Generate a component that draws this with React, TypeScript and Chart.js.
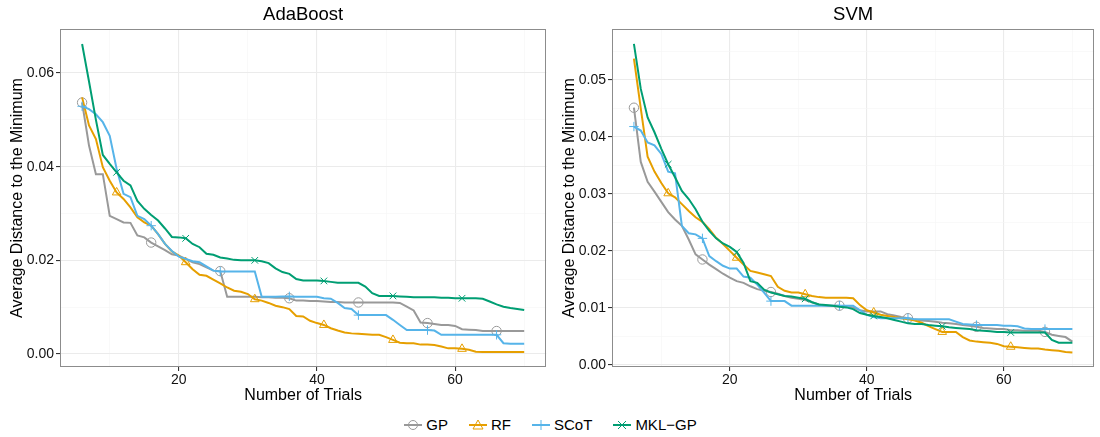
import React, { useEffect, useRef } from 'react';
import { Chart, registerables } from 'chart.js';
Chart.register(...registerables);

// ---------- data ----------
const trials = [6, 7, 8, 9, 10, 11, 12, 13, 14, 15, 16, 17, 18, 19, 20, 21, 22, 23, 24, 25, 26, 27, 28, 29, 30, 31, 32, 33, 34, 35, 36, 37, 38, 39, 40, 41, 42, 43, 44, 45, 46, 47, 48, 49, 50, 51, 52, 53, 54, 55, 56, 57, 58, 59, 60, 61, 62, 63, 64, 65, 66, 67, 68, 69, 70];

const markersA = [6, 16, 26, 36, 46, 56, 66];
const markersB = [11, 21, 31, 41, 51, 61];

const seriesNames = ['GP', 'RF', 'SCoT', 'MKL\u2212GP'];

// AdaBoost
const adaGP = [0.0537, 0.0445, 0.0384, 0.0384, 0.0295, 0.0288, 0.0281, 0.0280, 0.0253, 0.0249, 0.0238, 0.0230, 0.0222, 0.0213, 0.0210, 0.0203, 0.0196, 0.0192, 0.0185, 0.0178, 0.0177, 0.0122, 0.0122, 0.0122, 0.0122, 0.0122, 0.0121, 0.0121, 0.0120, 0.0120, 0.0119, 0.0114, 0.0114, 0.0113, 0.0113, 0.0112, 0.0111, 0.0111, 0.0110, 0.0110, 0.0110, 0.0110, 0.0110, 0.0110, 0.0110, 0.0110, 0.0109, 0.0101, 0.0093, 0.0067, 0.0066, 0.0064, 0.0062, 0.0062, 0.0060, 0.0053, 0.0052, 0.0051, 0.0049, 0.0049, 0.0049, 0.0049, 0.0049, 0.0049, 0.0049];
const adaRF = [0.0548, 0.0488, 0.0459, 0.0399, 0.0370, 0.0345, 0.0331, 0.0313, 0.0292, 0.0281, 0.0274, 0.0256, 0.0235, 0.0219, 0.0210, 0.0196, 0.0181, 0.0169, 0.0167, 0.0159, 0.0151, 0.0142, 0.0135, 0.0133, 0.0128, 0.0117, 0.0114, 0.0109, 0.0103, 0.0100, 0.0096, 0.0081, 0.0080, 0.0071, 0.0066, 0.0062, 0.0055, 0.0050, 0.0046, 0.0044, 0.0043, 0.0042, 0.0041, 0.0041, 0.0036, 0.0030, 0.0024, 0.0023, 0.0023, 0.0020, 0.0020, 0.0019, 0.0016, 0.0012, 0.0012, 0.0011, 0.0009, 0.0005, 0.0004, 0.0004, 0.0004, 0.0004, 0.0004, 0.0004, 0.0004];
const adaSCoT = [0.0529, 0.0523, 0.0512, 0.0495, 0.0466, 0.0395, 0.0342, 0.0335, 0.0295, 0.0288, 0.0274, 0.0256, 0.0235, 0.0220, 0.0208, 0.0203, 0.0198, 0.0196, 0.0187, 0.0178, 0.0176, 0.0176, 0.0176, 0.0176, 0.0176, 0.0176, 0.0122, 0.0122, 0.0122, 0.0123, 0.0123, 0.0122, 0.0122, 0.0122, 0.0122, 0.0119, 0.0118, 0.0109, 0.0098, 0.0096, 0.0083, 0.0083, 0.0083, 0.0083, 0.0083, 0.0073, 0.0062, 0.0051, 0.0051, 0.0051, 0.0051, 0.0050, 0.0041, 0.0041, 0.0041, 0.0041, 0.0041, 0.0041, 0.0041, 0.0041, 0.0041, 0.0023, 0.0022, 0.0022, 0.0022];
const adaMKL = [0.0662, 0.0582, 0.0500, 0.0425, 0.0406, 0.0388, 0.0370, 0.0360, 0.0327, 0.0310, 0.0297, 0.0285, 0.0268, 0.0250, 0.0249, 0.0247, 0.0235, 0.0228, 0.0214, 0.0212, 0.0206, 0.0204, 0.0201, 0.0200, 0.0200, 0.0200, 0.0198, 0.0194, 0.0183, 0.0175, 0.0171, 0.0160, 0.0157, 0.0157, 0.0157, 0.0156, 0.0154, 0.0152, 0.0152, 0.0152, 0.0152, 0.0144, 0.0130, 0.0124, 0.0124, 0.0124, 0.0123, 0.0122, 0.0121, 0.0121, 0.0121, 0.0121, 0.0120, 0.0120, 0.0119, 0.0119, 0.0119, 0.0119, 0.0118, 0.0112, 0.0106, 0.0101, 0.0098, 0.0096, 0.0094];

// SVM
const svmGP = [0.0451, 0.0356, 0.0321, 0.0304, 0.0286, 0.0268, 0.0255, 0.0244, 0.0220, 0.0194, 0.0185, 0.0176, 0.0168, 0.0160, 0.0153, 0.0147, 0.0144, 0.0138, 0.0133, 0.0130, 0.0128, 0.0125, 0.0121, 0.0118, 0.0116, 0.0114, 0.0110, 0.0106, 0.0104, 0.0104, 0.0104, 0.0102, 0.0101, 0.0096, 0.0094, 0.0094, 0.0094, 0.0089, 0.0087, 0.0084, 0.0082, 0.0080, 0.0078, 0.0077, 0.0076, 0.0074, 0.0073, 0.0072, 0.0070, 0.0069, 0.0067, 0.0065, 0.0064, 0.0063, 0.0063, 0.0061, 0.0061, 0.0060, 0.0060, 0.0060, 0.0058, 0.0053, 0.0051, 0.0049, 0.0041];
const svmRF = [0.0537, 0.0450, 0.0365, 0.0339, 0.0319, 0.0301, 0.0294, 0.0282, 0.0270, 0.0259, 0.0251, 0.0238, 0.0223, 0.0212, 0.0200, 0.0188, 0.0176, 0.0165, 0.0162, 0.0159, 0.0156, 0.0137, 0.0130, 0.0127, 0.0127, 0.0124, 0.0121, 0.0119, 0.0118, 0.0118, 0.0118, 0.0118, 0.0117, 0.0105, 0.0096, 0.0092, 0.0088, 0.0086, 0.0084, 0.0082, 0.0080, 0.0078, 0.0074, 0.0068, 0.0063, 0.0058, 0.0058, 0.0058, 0.0049, 0.0043, 0.0041, 0.0040, 0.0039, 0.0037, 0.0033, 0.0032, 0.0031, 0.0030, 0.0029, 0.0029, 0.0027, 0.0026, 0.0025, 0.0023, 0.0022];
const svmSCoT = [0.0418, 0.0411, 0.0390, 0.0385, 0.0370, 0.0339, 0.0336, 0.0244, 0.0231, 0.0229, 0.0222, 0.0191, 0.0182, 0.0174, 0.0169, 0.0169, 0.0155, 0.0153, 0.0141, 0.0127, 0.0112, 0.0112, 0.0112, 0.0104, 0.0104, 0.0104, 0.0104, 0.0104, 0.0104, 0.0104, 0.0104, 0.0104, 0.0104, 0.0096, 0.0088, 0.0084, 0.0082, 0.0082, 0.0082, 0.0082, 0.0082, 0.0080, 0.0080, 0.0080, 0.0080, 0.0080, 0.0080, 0.0076, 0.0072, 0.0071, 0.0070, 0.0070, 0.0070, 0.0070, 0.0069, 0.0069, 0.0068, 0.0064, 0.0063, 0.0063, 0.0063, 0.0063, 0.0063, 0.0063, 0.0063];
const svmMKL = [0.0563, 0.0484, 0.0434, 0.0408, 0.0379, 0.0352, 0.0329, 0.0305, 0.0291, 0.0273, 0.0251, 0.0235, 0.0222, 0.0213, 0.0207, 0.0198, 0.0179, 0.0147, 0.0144, 0.0132, 0.0127, 0.0124, 0.0121, 0.0120, 0.0118, 0.0116, 0.0110, 0.0106, 0.0105, 0.0104, 0.0102, 0.0101, 0.0098, 0.0091, 0.0088, 0.0086, 0.0084, 0.0082, 0.0079, 0.0076, 0.0073, 0.0072, 0.0072, 0.0070, 0.0069, 0.0068, 0.0066, 0.0065, 0.0064, 0.0063, 0.0061, 0.0060, 0.0059, 0.0058, 0.0058, 0.0057, 0.0057, 0.0057, 0.0057, 0.0057, 0.0057, 0.0044, 0.0039, 0.0039, 0.0039];

const xGridValues = [10, 20, 30, 40, 50, 60, 70];
const xLabelValues = [20, 40, 60];
const adaYGrid = [0, 0.01, 0.02, 0.03, 0.04, 0.05, 0.06];
const adaYLabels = [0, 0.02, 0.04, 0.06];
const svmYGrid = [0, 0.005, 0.01, 0.015, 0.02, 0.025, 0.03, 0.035, 0.04, 0.045, 0.05, 0.055];
const svmYLabels = [0, 0.01, 0.02, 0.03, 0.04, 0.05];

// ---------- styles ----------
const FONT = '"Liberation Sans", Arial, Helvetica, sans-serif';
const COLORS = ['#999999', '#E69F00', '#56B4E9', '#009E73'];
const POINT_STYLES = ['circle', 'triangle', 'cross', 'crossRot'];
const MARKER_SETS = [markersA, markersB, markersA, markersB];

const near = (list: number[], v: number) => list.some((m) => Math.abs(m - v) < 1e-9);

const borderPlugin = {
  id: 'panelBorder',
  afterDatasetsDraw(chart: any) {
    const { ctx, chartArea } = chart;
    ctx.save();
    ctx.strokeStyle = '#8c8c8c';
    ctx.lineWidth = 1;
    ctx.strokeRect(
      Math.round(chartArea.left) + 0.5,
      Math.round(chartArea.top) + 0.5,
      Math.round(chartArea.right - chartArea.left) - 1,
      Math.round(chartArea.bottom - chartArea.top) - 1
    );
    ctx.restore();
  },
};

type PanelProps = {
  title: string;
  series: number[][];
  yMin: number;
  yMax: number;
  yGrid: number[];
  yLabels: number[];
  left: number;
  width: number;
  padRight: number;
};

function Panel({ title, series, yMin, yMax, yGrid, yLabels, left, width, padRight }: PanelProps) {
  const ref = useRef<HTMLCanvasElement | null>(null);
  useEffect(() => {
    if (!ref.current) return;
    // draw order: dataset 0 is painted last (on top); ggplot paints MKL-GP last
    const order = [3, 2, 1, 0];
    const datasets = order.map((k) => ({
      label: seriesNames[k],
      data: trials.map((t, i) => ({ x: t, y: series[k][i] })),
      borderColor: COLORS[k],
      backgroundColor: 'rgba(0,0,0,0)',
      borderWidth: 2,
      tension: 0,
      fill: false,
      pointStyle: POINT_STYLES[k],
      pointRadius: (c: any) => (c.raw && near(MARKER_SETS[k], c.raw.x) ? (k === 1 ? 5 : 4.7) : 0),
      pointHoverRadius: 0,
      pointBorderColor: COLORS[k],
      pointBackgroundColor: 'rgba(0,0,0,0)',
      pointBorderWidth: 1,
    }));
    const chart = new Chart(ref.current, {
      type: 'line',
      data: { datasets },
      plugins: [borderPlugin],
      options: {
        responsive: false,
        animation: false,
        devicePixelRatio: 1,
        events: [],
        layout: { padding: { left: 0, right: padRight, top: 0, bottom: 0 } },
        plugins: {
          legend: { display: false },
          tooltip: { enabled: false },
          title: {
            display: true,
            text: title,
            fullSize: false,
            color: '#000',
            font: { family: FONT, size: 18.5, weight: 'normal' },
            padding: { top: 3.6, bottom: 3.2 },
          },
        },
        scales: {
          x: {
            type: 'linear',
            min: 2.8,
            max: 73.2,
            afterBuildTicks: (s: any) => {
              s.ticks = xGridValues.map((v) => ({ value: v }));
            },
            afterFit: (s: any) => {
              s.height = 43;
            },
            border: { display: false },
            grid: {
              color: (c: any) => (c.tick && near(xLabelValues, c.tick.value) ? '#ebebeb' : '#f5f5f5'),
              lineWidth: (c: any) => (c.tick && near(xLabelValues, c.tick.value) ? 1.1 : 0.6),
              tickColor: (c: any) => (c.tick && near(xLabelValues, c.tick.value) ? '#333333' : 'rgba(0,0,0,0)'),
              tickLength: 4,
              drawTicks: true,
            },
            ticks: {
              autoSkip: false,
              maxRotation: 0,
              padding: 1,
              color: '#111',
              font: { family: FONT, size: 14 },
              callback: (v: any) => (near(xLabelValues, Number(v)) ? String(v) : ''),
            },
            title: {
              display: true,
              text: 'Number of Trials',
              color: '#000',
              font: { family: FONT, size: 16 },
              padding: { top: 0, bottom: 5 },
            },
          },
          y: {
            type: 'linear',
            min: yMin,
            max: yMax,
            afterBuildTicks: (s: any) => {
              s.ticks = yGrid.map((v) => ({ value: v }));
            },
            afterFit: (s: any) => {
              s.width = 60;
            },
            border: { display: false },
            grid: {
              color: (c: any) => (c.tick && near(yLabels, c.tick.value) ? '#ebebeb' : '#f5f5f5'),
              lineWidth: (c: any) => (c.tick && near(yLabels, c.tick.value) ? 1.1 : 0.6),
              tickColor: (c: any) => (c.tick && near(yLabels, c.tick.value) ? '#333333' : 'rgba(0,0,0,0)'),
              tickLength: 4,
              drawTicks: true,
            },
            ticks: {
              autoSkip: false,
              padding: 2,
              color: '#111',
              font: { family: FONT, size: 14 },
              callback: (v: any) => (near(yLabels, Number(v)) ? Number(v).toFixed(2) : ''),
            },
            title: {
              display: true,
              text: 'Average Distance to the Minimum',
              color: '#000',
              font: { family: FONT, size: 16 },
              padding: { top: 8, bottom: 0 },
            },
          },
        },
      } as any,
    });
    return () => chart.destroy();
  }, []);
  return (
    <canvas
      ref={ref}
      width={width}
      height={410}
      style={{ position: 'absolute', left, top: 0, width, height: 410 }}
    />
  );
}

function LegendIcon({ k }: { k: number }) {
  const c = COLORS[k];
  const cx = 10;
  const cy = 8;
  let marker: React.ReactNode = null;
  if (k === 0) marker = <circle cx={cx} cy={cy} r={4.5} fill="none" stroke={c} strokeWidth={1} />;
  if (k === 1)
    marker = (
      <polygon points={`${cx},${cy - 5} ${cx + 5},${cy + 4} ${cx - 5},${cy + 4}`} fill="none" stroke={c} strokeWidth={1} />
    );
  if (k === 2)
    marker = (
      <g stroke={c} strokeWidth={1}>
        <line x1={cx - 5} y1={cy} x2={cx + 5} y2={cy} />
        <line x1={cx} y1={cy - 5} x2={cx} y2={cy + 5} />
      </g>
    );
  if (k === 3)
    marker = (
      <g stroke={c} strokeWidth={1}>
        <line x1={cx - 4} y1={cy - 4} x2={cx + 4} y2={cy + 4} />
        <line x1={cx - 4} y1={cy + 4} x2={cx + 4} y2={cy - 4} />
      </g>
    );
  return (
    <svg width={20} height={16} style={{ display: 'block' }}>
      <line x1={1} y1={cy} x2={19} y2={cy} stroke={c} strokeWidth={2} />
      {marker}
    </svg>
  );
}

export default function App() {
  return (
    <div style={{ position: 'absolute', left: 0, top: 0, width: 1100, height: 437, background: '#fff', overflow: 'hidden' }}>
      <Panel
        title="AdaBoost"
        series={[adaGP, adaRF, adaSCoT, adaMKL]}
        yMin={-0.00278}
        yMax={0.0694}
        yGrid={adaYGrid}
        yLabels={adaYLabels}
        left={0}
        width={552}
        padRight={2}
      />
      <Panel
        title="SVM"
        series={[svmGP, svmRF, svmSCoT, svmMKL]}
        yMin={-0.00035}
        yMax={0.0589}
        yGrid={svmYGrid}
        yLabels={svmYLabels}
        left={552}
        width={548}
        padRight={3}
      />
      <div
        style={{
          position: 'absolute',
          left: 0,
          top: 415,
          width: 1100,
          height: 20,
          display: 'flex',
          justifyContent: 'center',
          alignItems: 'center',
          fontFamily: FONT,
          fontSize: 15,
          color: '#000',
        }}
      >
        {seriesNames.map((n, k) => (
          <div key={n} style={{ display: 'flex', alignItems: 'center', marginRight: k < 3 ? 20 : 0 }}>
            <LegendIcon k={k} />
            <span style={{ marginLeft: 3, lineHeight: '16px' }}>{n}</span>
          </div>
        ))}
      </div>
    </div>
  );
}
